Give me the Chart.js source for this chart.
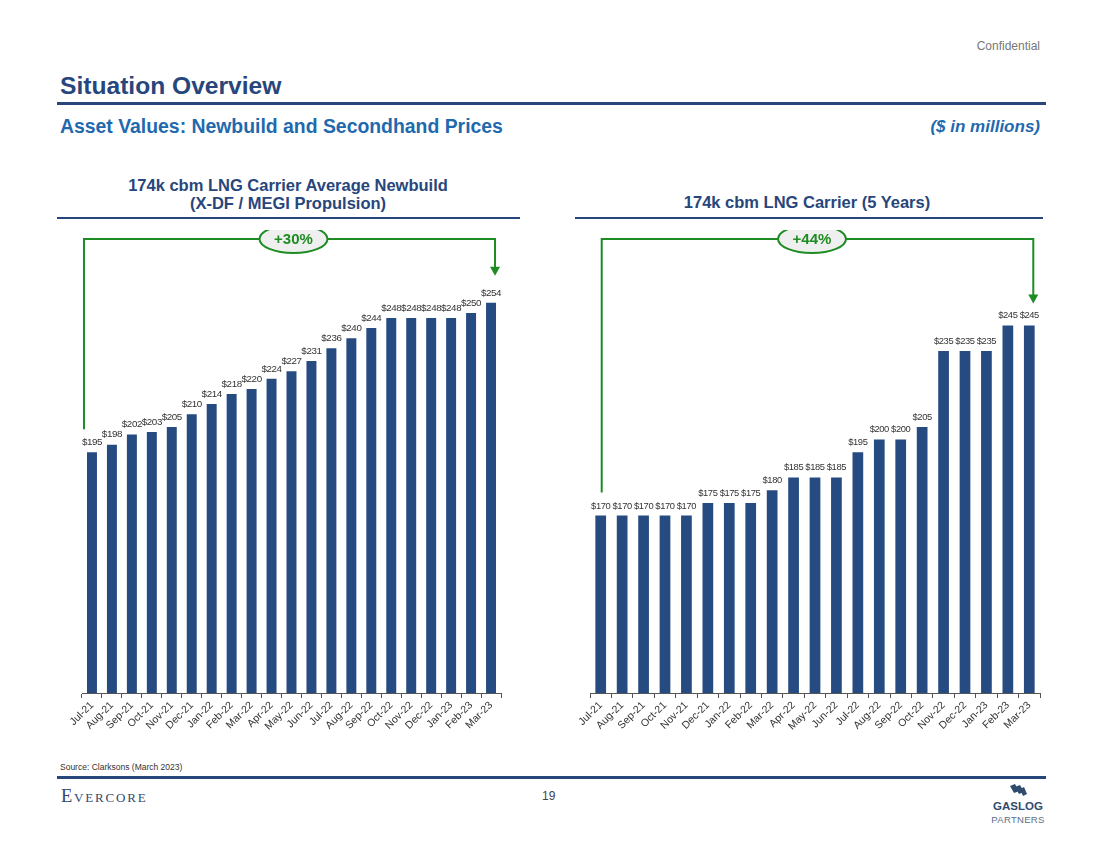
<!DOCTYPE html>
<html><head><meta charset="utf-8">
<script src="https://cdn.jsdelivr.net/npm/chart.js@4.4.0/dist/chart.umd.min.js"></script>
<style>
body{margin:0;width:1100px;height:849px;position:relative;background:#fff;font-family:"Liberation Sans",Arial,sans-serif;overflow:hidden}
.abs{position:absolute;white-space:nowrap}
.navy{color:#27467C}
.blue{color:#1F69AE}
</style></head><body>
<div class="abs" style="right:60px;top:39px;font-size:12px;color:#777">Confidential</div>
<div class="abs navy" style="left:60px;top:74px;font-size:24.6px;line-height:24px;font-weight:bold">Situation Overview</div>
<div class="abs" style="left:57px;top:102px;width:989px;height:3px;background:#27467C"></div>
<div class="abs blue" style="left:60px;top:117px;font-size:19.4px;line-height:19px;font-weight:bold">Asset Values: Newbuild and Secondhand Prices</div>
<div class="abs blue" style="right:60px;top:117px;font-size:17px;line-height:19px;font-weight:bold;font-style:italic">($ in millions)</div>

<div class="abs navy" style="left:57px;top:176px;width:462px;text-align:center;font-size:16.5px;line-height:18px;font-weight:bold">174k cbm LNG Carrier Average Newbuild<br>(X-DF / MEGI Propulsion)</div>
<div class="abs" style="left:57px;top:217px;width:463px;height:1.5px;background:#27467C"></div>
<div class="abs navy" style="left:572px;top:193px;width:470px;text-align:center;font-size:16.5px;line-height:18px;font-weight:bold">174k cbm LNG Carrier (5 Years)</div>
<div class="abs" style="left:575px;top:217px;width:468px;height:1.5px;background:#27467C"></div>

<div class="abs" style="left:60px;top:230px;width:460px;height:523px"><canvas id="c1"></canvas></div>
<div class="abs" style="left:570px;top:230px;width:480px;height:523px"><canvas id="c2"></canvas></div>

<div class="abs" style="left:60px;top:762px;font-size:8.5px;color:#333">Source: Clarksons (March 2023)</div>
<div class="abs" style="left:57px;top:776px;width:989px;height:3px;background:#27467C"></div>
<div class="abs" style="left:61px;top:786px;font-family:'Liberation Serif',serif;font-size:18.5px;font-variant:small-caps;letter-spacing:1.8px;color:#33496E">Evercore</div>
<div class="abs" style="left:542px;top:789px;font-size:12px;color:#444">19</div>
<svg class="abs" style="left:1004px;top:783px" width="26" height="16" viewBox="0 0 26 16">
  <g fill="#2F4C6E"><path d="M6 3 L11 1 L15 8 L10 10 Z"/><path d="M11 4 L16 2 L20 9 L15 11 Z"/><path d="M16 6 L20 4 L23 11 L19 13 Z"/></g>
</svg>
<div class="abs" style="left:990px;top:800px;width:56px;text-align:center;font-size:11.5px;font-weight:bold;color:#2F4C6E">GASLOG</div>
<div class="abs" style="left:986px;top:814px;width:64px;text-align:center;font-size:9.5px;letter-spacing:0.3px;color:#5B6F86">PARTNERS</div>

<script>
const months = ['Jul-21','Aug-21','Sep-21','Oct-21','Nov-21','Dec-21','Jan-22','Feb-22','Mar-22','Apr-22','May-22','Jun-22','Jul-22','Aug-22','Sep-22','Oct-22','Nov-22','Dec-22','Jan-23','Feb-23','Mar-23'];
const newbuildPrices = [195,198,202,203,205,210,214,218,220,224,227,231,236,240,244,248,248,248,248,250,254];
const secondhandPrices = [170,170,170,170,170,175,175,175,180,185,185,185,195,200,200,205,235,235,235,245,245];
const changeLabels = ['+30%','+44%'];

const BAR = '#264B80', GREEN = '#1E8C22';

const labelPlugin = {
  id: 'valueLabels',
  afterDatasetsDraw(chart, args, o) {
    const ctx = chart.ctx, meta = chart.getDatasetMeta(0), vals = chart.data.datasets[0].data;
    ctx.save();
    ctx.font = o.size + 'px "Liberation Sans", Arial, sans-serif';
    if ('letterSpacing' in ctx) ctx.letterSpacing = o.spacing;
    ctx.fillStyle = '#333';
    ctx.textAlign = 'center';
    ctx.textBaseline = 'bottom';
    meta.data.forEach((b, i) => ctx.fillText('$' + vals[i], b.x, b.y - 5));
    ctx.restore();
  }
};

const bracketPlugin = {
  id: 'bracket',
  afterDraw(chart, args, o) {
    const ctx = chart.ctx, meta = chart.getDatasetMeta(0), a = chart.chartArea;
    const first = meta.data[0], last = meta.data[meta.data.length - 1];
    const y0 = a.top - 8;
    const xl = first.x + o.leftOffset, xr = last.x + 4;
    const yb = first.y - 23, yt = last.y - o.tipGap;
    ctx.save();
    ctx.strokeStyle = GREEN; ctx.fillStyle = GREEN; ctx.lineWidth = 2;
    ctx.beginPath();
    ctx.moveTo(xl, yb); ctx.lineTo(xl, y0); ctx.lineTo(xr, y0); ctx.lineTo(xr, yt - 8);
    ctx.stroke();
    ctx.beginPath();
    ctx.moveTo(xr - 5, yt - 9); ctx.lineTo(xr + 5, yt - 9); ctx.lineTo(xr, yt); ctx.closePath();
    ctx.fill();
    const cx = (a.left + a.right) / 2 + o.labelShift;
    ctx.beginPath();
    ctx.ellipse(cx, y0, 34, 14, 0, 0, Math.PI * 2);
    ctx.fillStyle = '#EFEFEF'; ctx.fill();
    ctx.lineWidth = 2; ctx.stroke();
    ctx.fillStyle = GREEN;
    ctx.font = 'bold 15px "Liberation Sans", Arial, sans-serif';
    ctx.textAlign = 'center'; ctx.textBaseline = 'middle';
    ctx.fillText(o.text, cx, y0 + 1);
    ctx.restore();
  }
};

function makeChart(id, values, pad, labelFont, bracket) {
  return new Chart(document.getElementById(id), {
    type: 'bar',
    data: { labels: months, datasets: [{ data: values, backgroundColor: BAR, barPercentage: 0.5, categoryPercentage: 1 }] },
    options: {
      responsive: true, maintainAspectRatio: false, animation: false,
      layout: { padding: pad },
      plugins: { legend: { display: false }, tooltip: { enabled: false }, valueLabels: labelFont, bracket: bracket },
      scales: {
        x: {
          grid: { offset: true, drawOnChartArea: false, drawTicks: true, tickLength: 5, color: '#555' },
          border: { display: true, color: '#555', width: 1 },
          ticks: { color: '#333', font: { family: '"Liberation Sans", Arial, sans-serif', size: 10.5 }, maxRotation: 45, minRotation: 45, autoSkip: false, padding: 1 },
          afterFit(s) { s.height = 60; }
        },
        y: { display: false, min: 100, max: 276 }
      }
    },
    plugins: [labelPlugin, bracketPlugin]
  });
}

makeChart('c1', newbuildPrices, { left: 22, right: 19, top: 17, bottom: 0 }, { size: 9.8, spacing: '-0.4px' }, { text: changeLabels[0], leftOffset: -8, tipGap: 27, labelShift: 2 });
makeChart('c2', secondhandPrices, { left: 20, right: 10, top: 17, bottom: 0 }, { size: 9.4, spacing: '-0.4px' }, { text: changeLabels[1], leftOffset: 1, tipGap: 22, labelShift: -3 });
</script>
</body></html>
